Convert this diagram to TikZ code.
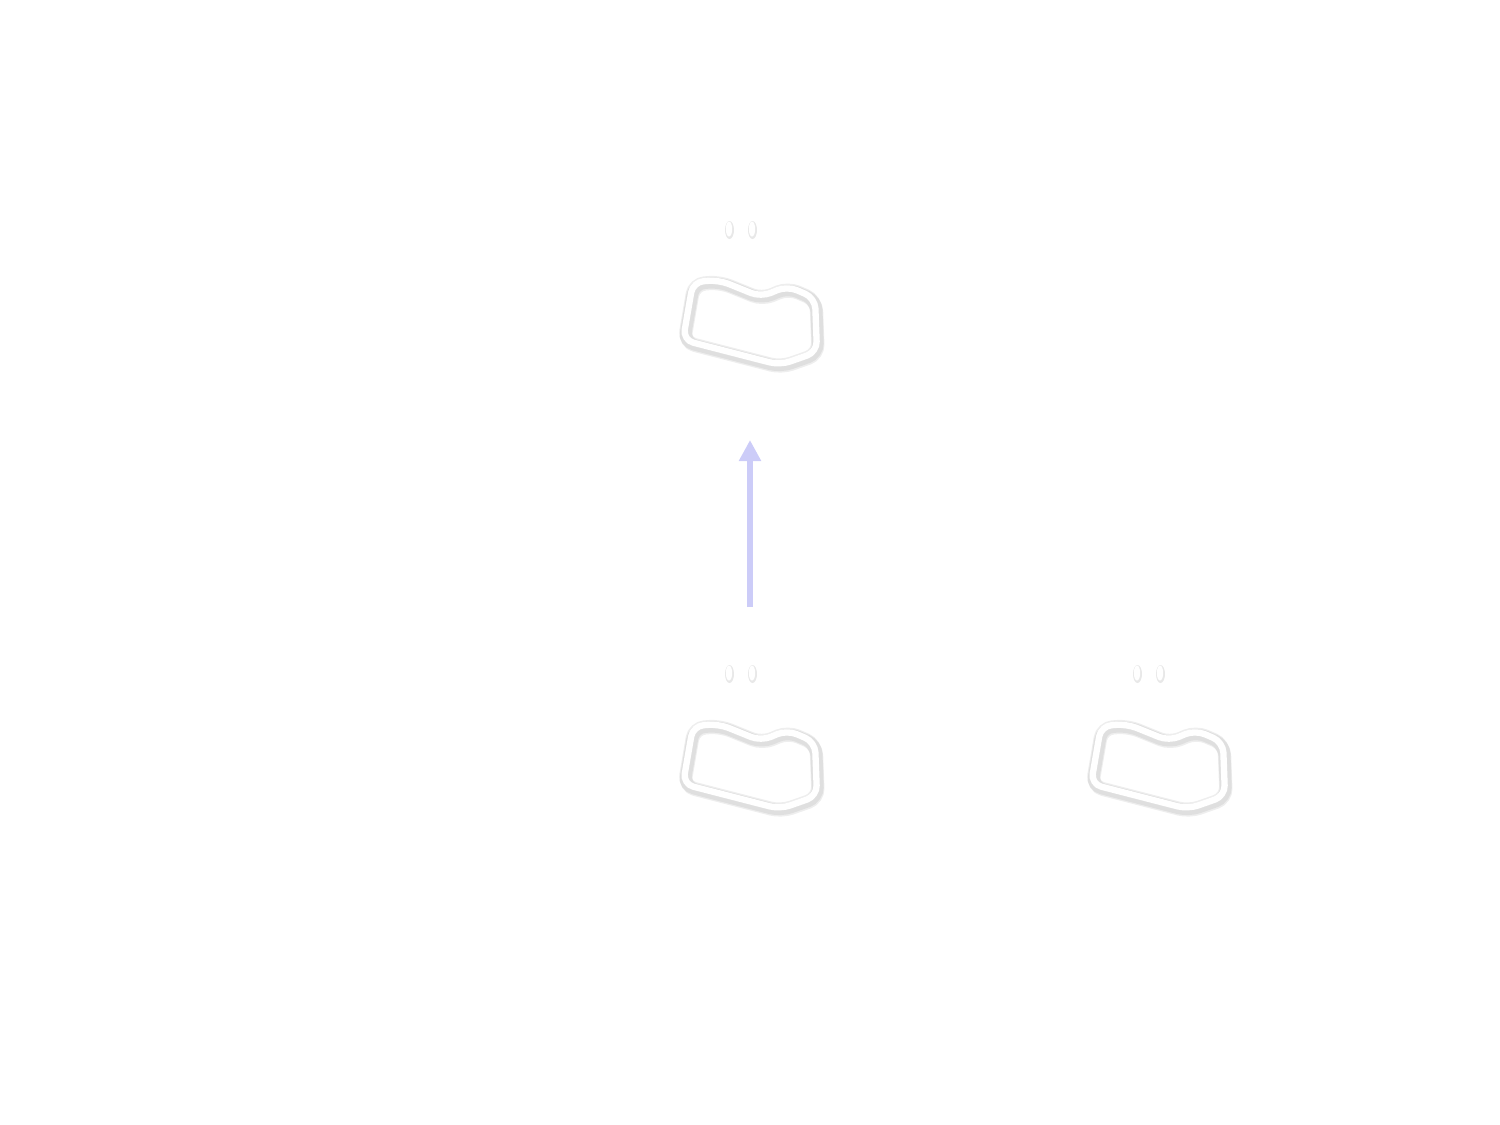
\documentclass[tikz,border=0pt]{standalone}
\usepackage{tikz}
\usetikzlibrary{arrows.meta}

\definecolor{lavender}{RGB}{204,204,248}
\definecolor{shade}{RGB}{140,140,140}

\tikzset{
    outline/.style={draw=white,line width=1.8pt,rounded corners=3pt},
    outshadow/.style={draw=shade,line width=3.6pt,opacity=0.15,rounded corners=3pt},
    tick/.style={fill=white,draw=none},
    tickshadow/.style={fill=shade,opacity=0.2},
    link/.style={lavender,line width=1.5pt,-{Triangle[width=6pt,length=6pt]}},
    pics/blob/.style={code={
        \foreach \dx/\dy/\st in {0.015/-0.03/outshadow,0.008/-0.015/outshadow,0/0/outline}
            \draw[\st,shift={(\dx,\dy)}] (-0.57,0.40) -- (-0.31,0.42)
                -- (0.11,0.25) -- (0.37,0.36)
                -- (0.65,0.24) -- (0.67,-0.30) -- (0.30,-0.43) -- (-0.67,-0.18) -- cycle;
        \foreach \tx in {-0.21,0.02} {
            \fill[tickshadow] (\tx+0.005,0.92) ellipse (0.045 and 0.09);
            \fill[tick] (\tx,0.93) ellipse (0.032 and 0.075);
        }
    }}
}

\begin{document}
\begin{tikzpicture}
    \useasboundingbox (0,0) rectangle (15,-11.25);
    % three boxes
    \coordinate (top) at (7.5,-3.22);
    \coordinate (left) at (7.5,-7.66);
    \coordinate (right) at (11.58,-7.66);
    \pic at (top) {blob};
    \pic at (left) {blob};
    \pic at (right) {blob};
    \draw[link,shorten <=1.59cm,shorten >=1.18cm] (left) -- (top);
\end{tikzpicture}
\end{document}
